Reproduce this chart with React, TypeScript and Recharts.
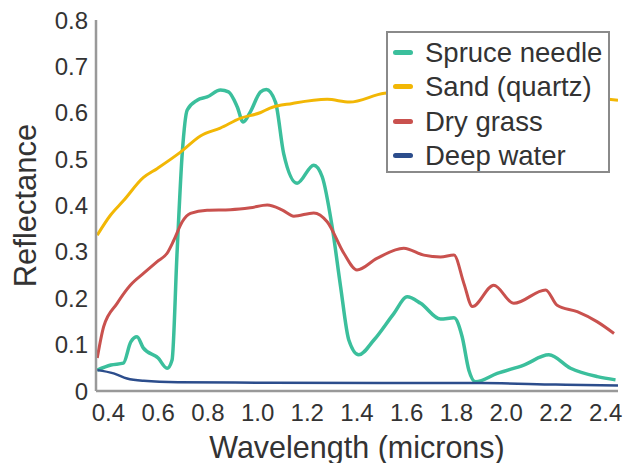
import { LineChart, Line, XAxis, YAxis, Legend, Label } from "recharts";

// wavelength (microns) / reflectance
const spruceW = [0.355, 0.41, 0.46, 0.49, 0.515, 0.54, 0.6, 0.636, 0.656, 0.676, 0.697, 0.717, 0.757, 0.797, 0.851, 0.883, 0.918, 0.942, 0.971, 1.012, 1.035, 1.072, 1.105, 1.159, 1.226, 1.26, 1.3, 1.334, 1.367, 1.407, 1.468, 1.548, 1.602, 1.656, 1.736, 1.79, 1.823, 1.85, 1.877, 1.964, 2.071, 2.172, 2.259, 2.367, 2.44];
const spruceR = [0.045, 0.056, 0.06, 0.106, 0.117, 0.093, 0.071, 0.049, 0.067, 0.297, 0.513, 0.606, 0.627, 0.634, 0.649, 0.645, 0.613, 0.58, 0.602, 0.645, 0.65, 0.623, 0.512, 0.448, 0.487, 0.462, 0.354, 0.225, 0.11, 0.078, 0.11, 0.167, 0.203, 0.189, 0.155, 0.158, 0.117, 0.045, 0.02, 0.038, 0.056, 0.078, 0.049, 0.031, 0.024];

const sandW = [0.355, 0.408, 0.46, 0.54, 0.597, 0.69, 0.77, 0.85, 0.93, 1.01, 1.05, 1.14, 1.28, 1.37, 1.51, 1.7, 1.9, 2.1, 2.3, 2.45];
const sandR = [0.336, 0.379, 0.41, 0.46, 0.48, 0.515, 0.55, 0.567, 0.588, 0.6, 0.61, 0.62, 0.629, 0.623, 0.642, 0.648, 0.645, 0.64, 0.635, 0.627];

const grassW = [0.355, 0.381, 0.435, 0.488, 0.542, 0.596, 0.636, 0.663, 0.697, 0.73, 0.797, 0.891, 0.971, 1.039, 1.1, 1.146, 1.226, 1.28, 1.347, 1.4, 1.48, 1.588, 1.669, 1.736, 1.79, 1.83, 1.864, 1.95, 2.031, 2.159, 2.205, 2.286, 2.367, 2.434];
const grassR = [0.071, 0.139, 0.189, 0.228, 0.254, 0.279, 0.297, 0.325, 0.365, 0.383, 0.39, 0.391, 0.395, 0.401, 0.39, 0.377, 0.384, 0.365, 0.297, 0.261, 0.286, 0.308, 0.293, 0.289, 0.293, 0.232, 0.182, 0.228, 0.189, 0.218, 0.185, 0.171, 0.149, 0.124];

const waterW = [0.355, 0.421, 0.475, 0.542, 0.68, 1.0, 1.5, 1.9, 2.2, 2.45];
const waterR = [0.045, 0.038, 0.027, 0.022, 0.019, 0.018, 0.017, 0.017, 0.014, 0.012];

const xTicks = [0.4, 0.6, 0.8, 1.0, 1.2, 1.4, 1.6, 1.8, 2.0, 2.2, 2.4];
const yTicks = [0, 0.1, 0.2, 0.3, 0.4, 0.5, 0.6, 0.7, 0.8];

const zip = (w: number[], r: number[]) => w.map((x, i) => ({ w: x, r: r[i] }));

const SERIES = [
  { name: "Spruce needle", color: "#3bbf9c", width: 3.5, data: zip(spruceW, spruceR) },
  { name: "Sand (quartz)", color: "#f2b705", width: 3, data: zip(sandW, sandR) },
  { name: "Dry grass", color: "#c9514e", width: 3, data: zip(grassW, grassR) },
  { name: "Deep water", color: "#2c4d8c", width: 2.5, data: zip(waterW, waterR) },
];

const FONT = '"Liberation Sans", Arial, sans-serif';
const TEXT = "#333333";
const FRAME = { stroke: "#999999", strokeWidth: 2.5 };
const tick = { fontSize: 24, fill: TEXT, fontFamily: FONT };

function LegendBox() {
  return (
    <div
      style={{
        boxSizing: "border-box",
        width: 224,
        height: 142,
        border: "2px solid #8a8a8a",
        background: "#fff",
        paddingTop: 2,
        fontFamily: FONT,
      }}
    >
      {SERIES.map((s) => (
        <div
          key={s.name}
          style={{ height: 34.5, display: "flex", alignItems: "center", paddingLeft: 5 }}
        >
          <span
            style={{
              width: 20,
              height: 5,
              borderRadius: 3,
              background: s.color,
              marginRight: 12,
              flexShrink: 0,
            }}
          />
          <span style={{ fontSize: 27.5, color: TEXT, lineHeight: 1, whiteSpace: "nowrap" }}>
            {s.name}
          </span>
        </div>
      ))}
    </div>
  );
}

export default function App() {
  return (
    <div style={{ position: "absolute", left: 0, top: 0, width: 624, height: 463, background: "#fff" }}>
      <LineChart width={624} height={463} margin={{ top: 20, right: 6, left: 0, bottom: 0 }}>
        <XAxis
          dataKey="w"
          type="number"
          domain={[0.35, 2.45]}
          ticks={xTicks}
          tickFormatter={(v: number) => v.toFixed(1)}
          tick={tick}
          tickLine={false}
          tickSize={0}
          tickMargin={13}
          axisLine={FRAME}
          height={72}
          allowDataOverflow
        >
          <Label
            value="Wavelength (microns)"
            position="insideBottom"
            offset={5}
            style={{ fontSize: 30.5, fill: TEXT, fontFamily: FONT }}
          />
        </XAxis>
        <XAxis
          xAxisId="top"
          orientation="top"
          type="number"
          domain={[0.35, 2.45]}
          tick={false}
          tickLine={false}
          axisLine={FRAME}
          height={0}
        />
        <YAxis
          type="number"
          domain={[0, 0.8]}
          ticks={yTicks}
          tickFormatter={(v: number) => (v === 0 ? "0" : v.toFixed(1))}
          tick={tick}
          tickLine={false}
          tickSize={0}
          tickMargin={8}
          axisLine={FRAME}
          width={96}
          allowDataOverflow
        >
          <Label
            value="Reflectance"
            angle={-90}
            position="insideLeft"
            offset={25}
            style={{ fontSize: 31, fill: TEXT, fontFamily: FONT, textAnchor: "middle" }}
          />
        </YAxis>
        <YAxis
          yAxisId="right"
          orientation="right"
          type="number"
          domain={[0, 0.8]}
          tick={false}
          tickLine={false}
          axisLine={FRAME}
          width={0}
        />
        {SERIES.map((s) => (
          <Line
            key={s.name}
            data={s.data}
            dataKey="r"
            name={s.name}
            type="monotone"
            stroke={s.color}
            strokeWidth={s.width}
            dot={false}
            activeDot={false}
            isAnimationActive={false}
          />
        ))}
        <Legend
          layout="vertical"
          align="center"
          verticalAlign="middle"
          content={() => <LegendBox />}
          wrapperStyle={{ position: "absolute", left: 386, top: 31, width: 224, height: 142 }}
        />
      </LineChart>
    </div>
  );
}
